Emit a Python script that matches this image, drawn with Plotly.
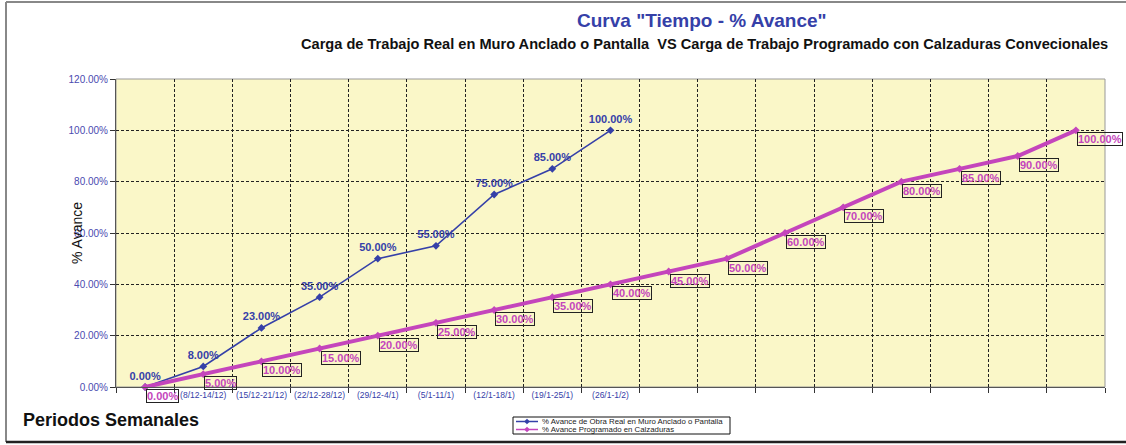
import plotly.graph_objects as go

# ---------------- data ----------------
periods = [f"P{i}" for i in range(17)]
period_labels = ["", "(8/12-14/12)", "(15/12-21/12)", "(22/12-28/12)", "(29/12-4/1)",
                 "(5/1-11/1)", "(12/1-18/1)", "(19/1-25/1)", "(26/1-1/2)",
                 "", "", "", "", "", "", "", ""]
real_values = [0.00, 0.08, 0.23, 0.35, 0.50, 0.55, 0.75, 0.85, 1.00]
prog_values = [0.00, 0.05, 0.10, 0.15, 0.20, 0.25, 0.30, 0.35, 0.40,
               0.45, 0.50, 0.60, 0.70, 0.80, 0.85, 0.90, 1.00]
real_name = "% Avance de Obra Real en Muro Anclado o Pantalla"
prog_name = "% Avance Programado en Calzaduras"

BLUE = "#3540A8"
PINK = "#C445BC"
FONT = "Arial, Liberation Sans, sans-serif"

# plot-area geometry in pixels (used to place decorations in paper units)
W, H = 1126, 445
L, R, T, B = 116, 21, 79, 58
PW, PH = W - L - R, H - T - B


def px_x(px):
    return (px - L) / PW


def px_y(py):
    return (H - B - py) / PH


fig = go.Figure()
fig.add_trace(go.Scatter(
    x=periods[:len(real_values)], y=real_values, name=real_name,
    mode="lines+markers+text",
    line=dict(color=BLUE, width=1.6),
    marker=dict(symbol="diamond", size=6, color=BLUE),
    texttemplate="<b>%{y:.2%}</b>", textposition="top center",
    textfont=dict(family=FONT, size=11, color=BLUE),
    cliponaxis=False, showlegend=False,
))
fig.add_trace(go.Scatter(
    x=periods, y=prog_values, name=prog_name,
    mode="lines+markers",
    line=dict(color=PINK, width=4),
    marker=dict(symbol="diamond", size=6, color=PINK),
    cliponaxis=False, showlegend=False,
))

annotations = []
for p, v in zip(periods, prog_values):
    annotations.append(dict(
        x=p, y=v, xref="x", yref="y", text=f"<b>{v:.2%}</b>", showarrow=False,
        xanchor="left", yanchor="middle", xshift=1, yshift=-9,
        font=dict(family=FONT, size=11, color=PINK),
        bordercolor="#222222", borderwidth=1, borderpad=0,
    ))

annotations += [
    dict(x=px_x(702), y=px_y(20), xref="paper", yref="paper", showarrow=False,
         text="<b>Curva \"Tiempo - % Avance\"</b>", xanchor="center", yanchor="middle",
         font=dict(family=FONT, size=19, color=BLUE)),
    dict(x=px_x(704), y=px_y(44), xref="paper", yref="paper", showarrow=False,
         text="<b>Carga de Trabajo Real en Muro Anclado o Pantalla  VS Carga de Trabajo Programado con Calzaduras Convecionales</b>",
         xanchor="center", yanchor="middle",
         font=dict(family=FONT, size=14.6, color="#111111")),
    dict(x=px_x(77), y=0.5, xref="paper", yref="paper", showarrow=False,
         text="% Avance", textangle=-90, xanchor="center", yanchor="middle",
         font=dict(family=FONT, size=14, color="#111111")),
    dict(x=px_x(21), y=px_y(420), xref="paper", yref="paper", showarrow=False,
         text="<b>Periodos Semanales</b>", xanchor="left", yanchor="middle",
         font=dict(family=FONT, size=18, color="#111111")),
]

shapes = [
    # outer chart frame
    dict(type="line", xref="paper", yref="paper", x0=px_x(6), x1=px_x(6), y0=px_y(442), y1=px_y(2),
         line=dict(color="#888888", width=2)),
    dict(type="line", xref="paper", yref="paper", x0=px_x(6), x1=px_x(1130), y0=px_y(2), y1=px_y(2),
         line=dict(color="#888888", width=2)),
    dict(type="line", xref="paper", yref="paper", x0=px_x(6), x1=px_x(1130), y0=px_y(442), y1=px_y(442),
         line=dict(color="#222222", width=2.5)),
    # plot-area border
    dict(type="rect", xref="paper", yref="paper", x0=0, x1=1, y0=0, y1=1,
         line=dict(color="#999999", width=1), layer="below"),
    # legend box
    dict(type="rect", xref="paper", yref="paper", x0=px_x(513), x1=px_x(730), y0=px_y(434), y1=px_y(417),
         line=dict(color="#111111", width=1), fillcolor="white"),
]

# legend entries (custom, compact like the reference)
legend_items = [(real_name, BLUE, 1.5), (prog_name, PINK, 1.5)]
for i, (name, color, lw) in enumerate(legend_items):
    cy = 421.5 + 8 * i
    shapes.append(dict(type="line", xref="paper", yref="paper",
                       x0=px_x(516), x1=px_x(538), y0=px_y(cy), y1=px_y(cy),
                       line=dict(color=color, width=lw)))
    cx, d = 527, 2.6
    shapes.append(dict(type="path", xref="paper", yref="paper",
                       path=f"M {px_x(cx)},{px_y(cy - d)} L {px_x(cx + d)},{px_y(cy)} "
                            f"L {px_x(cx)},{px_y(cy + d)} L {px_x(cx - d)},{px_y(cy)} Z",
                       fillcolor=color, line=dict(color=color, width=0.5)))
    annotations.append(dict(x=px_x(540), y=px_y(cy), xref="paper", yref="paper",
                            showarrow=False, text=name, xanchor="left", yanchor="middle",
                            font=dict(family=FONT, size=7.8, color="#222222")))

fig.update_layout(
    width=W, height=H,
    margin=dict(l=L, r=R, t=T, b=B, autoexpand=False),
    paper_bgcolor="white",
    plot_bgcolor="#FAF7C8",
    font=dict(family=FONT, size=10, color="#111111"),
    showlegend=False,
    annotations=annotations,
    shapes=shapes,
)
fig.update_xaxes(
    type="category", categoryorder="array", categoryarray=periods,
    tickmode="array", tickvals=periods, ticktext=period_labels,
    range=[-0.5, len(periods) - 0.5], tickangle=0,
    tickson="boundaries", ticks="outside", ticklen=5, tickcolor="#333333",
    showgrid=True, gridcolor="#222222", griddash="3px,2px", gridwidth=1,
    showline=True, linecolor="#555555", linewidth=1,
    tickfont=dict(family=FONT, size=8.5, color=BLUE),
    zeroline=False,
)
fig.update_yaxes(
    range=[0, 1.2], tickmode="linear", tick0=0, dtick=0.2, tickformat=".2%",
    ticks="outside", ticklen=5, tickcolor="#333333",
    showgrid=True, gridcolor="#222222", griddash="3px,2px", gridwidth=1,
    showline=True, linecolor="#555555", linewidth=1,
    tickfont=dict(family=FONT, size=10, color="#4A4AB0"),
    zeroline=False,
)

fig.write_html("out.html", config={"displayModeBar": False},
               post_script="document.body.style.margin='0px';")
